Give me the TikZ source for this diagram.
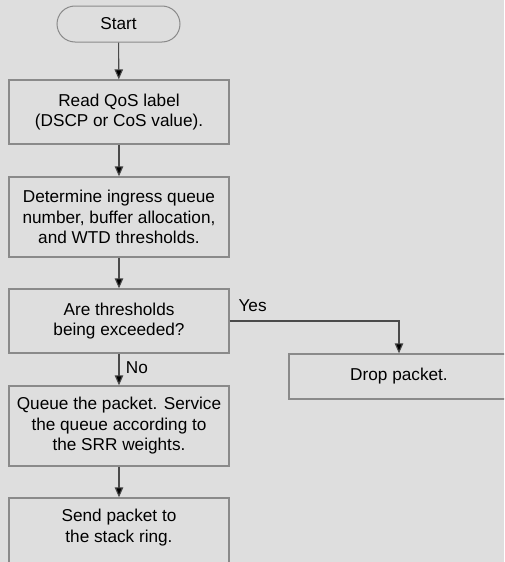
\documentclass[tikz,border=0pt]{standalone}
\usepackage{fontspec}
\setmainfont{Liberation Sans}
\usetikzlibrary{arrows.meta,positioning,shapes.misc}
\definecolor{bgray}{HTML}{DEDEDE}
\definecolor{edge}{HTML}{8A8A8A}
\definecolor{wire}{HTML}{4A4A4A}

\begin{document}
\begin{tikzpicture}[x=1pt,y=-1pt,
   stepbox/.style={rectangle,draw=edge,line width=1.3pt,fill=bgray,minimum width=220pt,
     inner sep=0pt,align=center,font=\fontsize{17.2}{20.5}\selectfont},
   term/.style={rounded rectangle,draw=edge,line width=1pt,fill=bgray,minimum width=123pt,
     minimum height=36pt,inner sep=0pt,font=\fontsize{17.2}{20.5}\selectfont},
   flow/.style={draw=wire,line width=1.1pt,-{Triangle[length=10pt,width=8.5pt,fill=black]}},
   lbl/.style={font=\fontsize{17.2}{20.5}\selectfont}]
  \fill[bgray] (0,0) rectangle (504,562);
  \clip (0,0) rectangle (504,562);
  % main column
  \node[term](start) at (118.5,24){Start};
  \node[stepbox,minimum height=64pt](read) at (119,112){Read QoS label\\(DSCP or CoS value).};
  \node[stepbox,minimum height=80pt](det) at (119,217){Determine ingress queue\\number, buffer allocation,\\and WTD thresholds.};
  \node[stepbox,minimum height=64pt](thr) at (119,321){Are thresholds\\being exceeded?};
  \node[stepbox,minimum height=80pt](srv) at (119,426){Queue the packet. Service\\the queue according to\\the SRR weights.};
  \node[stepbox,minimum height=80pt,text depth=24pt](ring) at (119,538){Send packet to\\the stack ring.};
  % side branch
  \node[stepbox,minimum height=45pt](drop) at (399,376.5){Drop packet.};
  \draw[flow] (start)--(read);
  \draw[flow] (read)--(det);
  \draw[flow] (det)--(thr);
  \draw[flow] (thr)--(srv) node[lbl,pos=0.45,right=3pt]{No};
  \draw[flow] (srv)--(ring);
  \draw[flow] (thr.east) -| (drop.north);
  \node[lbl,anchor=west](yes) at (235,306){Yes};
\end{tikzpicture}
\end{document}
